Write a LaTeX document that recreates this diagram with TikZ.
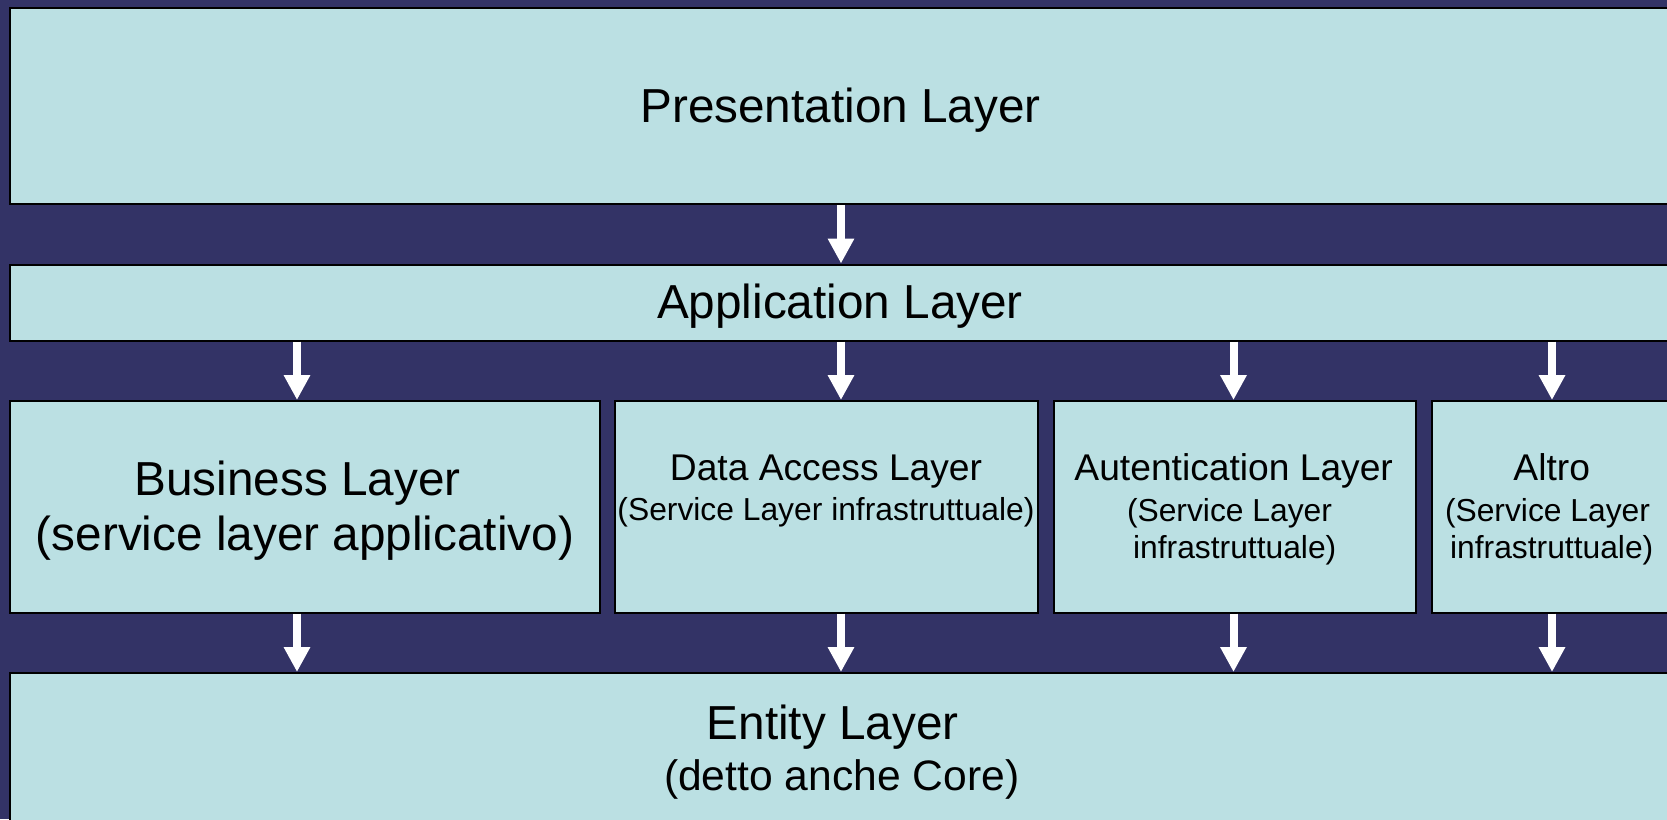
\documentclass[tikz,border=0pt]{standalone}
\usepackage{fontspec}
\setmainfont{Liberation Sans}
\usetikzlibrary{arrows.meta}
\definecolor{navy}{RGB}{51,51,102}
\definecolor{layerfill}{RGB}{187,224,227}

\begin{document}
\begin{tikzpicture}[x=1pt,y=-1pt,
  layer/.style={draw=black, line width=2pt, fill=layerfill, inner sep=0pt, anchor=north west},
  flow/.style={draw=white, line width=8pt, -{Triangle[width=25pt,length=25pt]}},
  txt/.style={anchor=base, inner sep=0pt, text=black},
  big/.style={font=\fontsize{47.7}{55}\selectfont},
  large/.style={font=\fontsize{42.6}{50}\selectfont},
  mid/.style={font=\fontsize{37.2}{44}\selectfont},
  small/.style={font=\fontsize{31.8}{37}\selectfont}]

% page background
\fill[navy] (0,0) rectangle (1667,819);
\useasboundingbox (0,0) rectangle (1667,819);
\clip (0,0) rectangle (1667,819);

% layers
\node[layer, minimum width=1663, minimum height=196] (pres) at (9,7) {};
\node[layer, minimum width=1663, minimum height=76] (app) at (9,263.5) {};
\node[layer, minimum width=590, minimum height=211.5] (biz) at (9,400) {};
\node[layer, minimum width=423, minimum height=211.5] (data) at (614,400) {};
\node[layer, minimum width=362.5, minimum height=211.5] (auth) at (1052.5,400) {};
\node[layer, minimum width=241.5, minimum height=211.5] (alt) at (1431,400) {};
\node[layer, minimum width=1663, minimum height=160] (ent) at (9,672) {};

% arrow columns
\coordinate (colA) at (297,0);
\coordinate (colB) at (841,0);
\coordinate (colC) at (1233.5,0);
\coordinate (colD) at (1552,0);

% connectors
\draw[flow] (pres.south -| colB) -- (app.north -| colB);
\draw[flow] (app.south -| colA) -- (biz.north -| colA);
\draw[flow] (app.south -| colB) -- (data.north -| colB);
\draw[flow] (app.south -| colC) -- (auth.north -| colC);
\draw[flow] (app.south -| colD) -- (alt.north -| colD);
\draw[flow] (biz.south -| colA) -- (ent.north -| colA);
\draw[flow] (data.south -| colB) -- (ent.north -| colB);
\draw[flow] (auth.south -| colC) -- (ent.north -| colC);
\draw[flow] (alt.south -| colD) -- (ent.north -| colD);

% labels
\node[txt,big] (presT) at (840.5,122.3) {Presentation Layer};
\node[txt,big] (appT) at (840,318.5) {Application Layer};
\node[txt,big] (bizT1) at (297.5,495) {Business Layer};
\node[txt,big] (bizT2) at (305,550) {(service layer applicativo)};
\node[txt,mid] (dataT1) at (826,480.7) {Data Access Layer};
\node[txt,small] (dataT2) at (826,520) {(Service Layer infrastruttuale)};
\node[txt,mid] (authT1) at (1233.7,480) {Autentication Layer};
\node[txt,small] (authT2) at (1229.5,521) {(Service Layer};
\node[txt,small] (authT3) at (1234.7,558) {infrastruttuale)};
\node[txt,mid] (altT1) at (1551.7,480) {Altro};
\node[txt,small] (altT2) at (1547.5,521) {(Service Layer};
\node[txt,small] (altT3) at (1551.7,558) {infrastruttuale)};
\node[txt,big] (entT1) at (832.7,739.3) {Entity Layer};
\node[txt,large] (entT2) at (841.7,790) {(detto anche Core)};
\end{tikzpicture}
\end{document}
